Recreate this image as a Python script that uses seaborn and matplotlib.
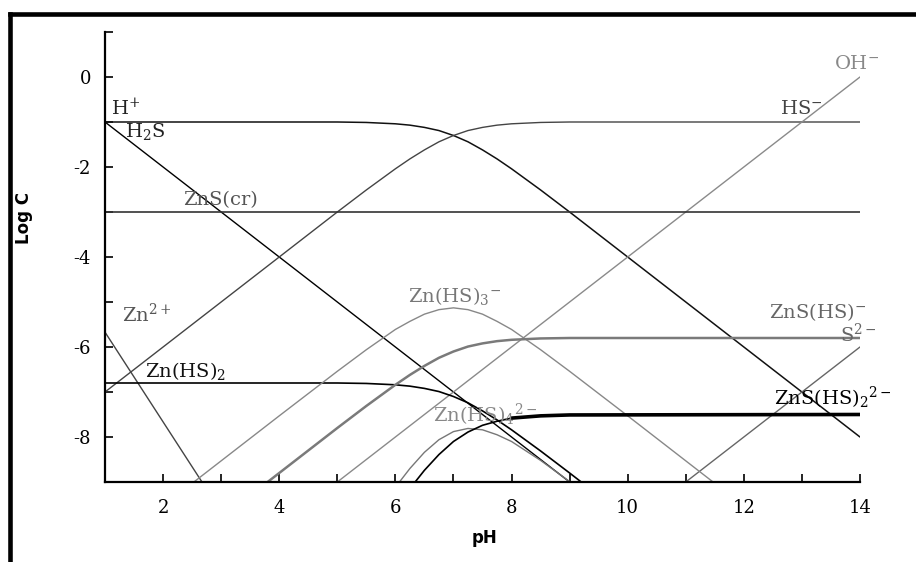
import numpy as np
import pandas as pd
import matplotlib
matplotlib.use("Agg")
import matplotlib.pyplot as plt
import seaborn as sns
from matplotlib.lines import Line2D

# ---------------- data ----------------
ph_hplus = [1, 9]
logc_hplus = [-1, -9]

ph_h2s = [1, 5, 5.5, 6, 6.25, 6.5, 6.75, 7, 7.25, 7.5, 7.75, 8, 8.5, 9, 14]
logc_h2s = [-1, -1, -1.01, -1.04, -1.07, -1.12, -1.19, -1.30, -1.44, -1.62, -1.82, -2.04, -2.51, -3.0, -8.0]

ph_hs = [1, 5, 5.5, 6, 6.25, 6.5, 6.75, 7, 7.25, 7.5, 7.75, 8, 8.5, 9, 14]
logc_hs = [-7, -3.0, -2.51, -2.04, -1.82, -1.62, -1.44, -1.30, -1.19, -1.12, -1.07, -1.04, -1.01, -1.0, -1.0]

ph_oh = [5, 14]
logc_oh = [-9, 0]

ph_s2 = [11, 14]
logc_s2 = [-9, -6]

ph_znscr = [1, 14]
logc_znscr = [-3, -3]

ph_zn = [1, 2.67]
logc_zn = [-5.67, -9]

ph_znhs2 = [1, 5, 5.5, 6, 6.25, 6.5, 6.75, 7, 7.25, 7.5, 7.75, 8, 8.5, 9, 9.2]
logc_znhs2 = [-6.8, -6.8, -6.81, -6.84, -6.87, -6.92, -6.99, -7.10, -7.24, -7.42, -7.62, -7.84, -8.31, -8.8, -9.0]

ph_znhs3 = [2.53, 4, 5, 5.5, 6, 6.25, 6.5, 6.75, 7, 7.25, 7.5, 7.75, 8, 8.5, 9, 10, 11.47]
logc_znhs3 = [-9.0, -7.53, -6.54, -6.06, -5.61, -5.43, -5.27, -5.17, -5.13, -5.17, -5.27, -5.43, -5.61, -6.06, -6.54, -7.53, -9.0]

ph_znshs = [3.8, 4.5, 5, 5.5, 6, 6.25, 6.5, 6.75, 7, 7.25, 7.5, 7.75, 8, 8.5, 9, 14]
logc_znshs = [-9.0, -8.3, -7.8, -7.31, -6.84, -6.62, -6.42, -6.24, -6.10, -5.99, -5.92, -5.87, -5.84, -5.81, -5.8, -5.8]

ph_znhs4 = [6.07, 6.25, 6.5, 6.75, 7, 7.25, 7.5, 7.75, 8, 8.5, 9, 9.05]
logc_znhs4 = [-9.0, -8.70, -8.34, -8.06, -7.88, -7.81, -7.84, -7.95, -8.10, -8.52, -8.99, -9.0]

ph_znshs2 = [6.34, 6.5, 6.75, 7, 7.25, 7.5, 7.75, 8, 8.5, 9, 14]
logc_znshs2 = [-9.0, -8.74, -8.39, -8.10, -7.89, -7.74, -7.65, -7.58, -7.53, -7.51, -7.5]

x_ticks = list(range(2, 15))
x_ticklabels = [str(v) if v % 2 == 0 else "" for v in x_ticks]
y_ticks = list(range(-8, 2))
y_ticklabels = [str(v) if v % 2 == 0 else "" for v in y_ticks]

series = [
    ("H+", ph_hplus, logc_hplus, "#000000", 1.0),
    ("H2S", ph_h2s, logc_h2s, "#111111", 1.1),
    ("HS-", ph_hs, logc_hs, "#444444", 1.0),
    ("OH-", ph_oh, logc_oh, "#8a8a8a", 1.0),
    ("S2-", ph_s2, logc_s2, "#666666", 1.0),
    ("ZnS(cr)", ph_znscr, logc_znscr, "#333333", 1.2),
    ("Zn2+", ph_zn, logc_zn, "#444444", 1.0),
    ("Zn(HS)2", ph_znhs2, logc_znhs2, "#000000", 1.2),
    ("Zn(HS)3-", ph_znhs3, logc_znhs3, "#888888", 1.0),
    ("ZnS(HS)-", ph_znshs, logc_znshs, "#7a7a7a", 1.8),
    ("Zn(HS)4 2-", ph_znhs4, logc_znhs4, "#777777", 1.0),
    ("ZnS(HS)2 2-", ph_znshs2, logc_znshs2, "#000000", 1.2),
]

frames = []
for name, xs, ys, _, _ in series:
    frames.append(pd.DataFrame({"species": name, "pH": xs, "logC": ys}))
df = pd.concat(frames, ignore_index=True)

# ---------------- figure ----------------
sns.set_theme(style="white")
plt.rcParams["font.family"] = ["DejaVu Serif"]
plt.rcParams["mathtext.fontset"] = "dejavuserif"
plt.rcParams["axes.unicode_minus"] = False
plt.rcParams["text.color"] = "black"
plt.rcParams["axes.labelcolor"] = "black"

fig = plt.figure(figsize=(9.16, 5.62), dpi=100)
ax = fig.add_axes([105 / 916, 1 - 482 / 562, 755 / 916, 450 / 562])

for name, xs, ys, color, lw in series:
    sub = df[df["species"] == name]
    sns.lineplot(data=sub, x="pH", y="logC", color=color, linewidth=lw,
                 estimator=None, sort=False, ax=ax, legend=False)

# thick plateau of ZnS(HS)2 2-
sub = df[(df["species"] == "ZnS(HS)2 2-") & (df["pH"] >= 8)]
sns.lineplot(data=sub, x="pH", y="logC", color="#000000", linewidth=2.6,
             estimator=None, sort=False, ax=ax, legend=False)

ax.set_xlim(1, 14)
ax.set_ylim(-9, 1)
ax.set_xticks(x_ticks)
ax.set_xticklabels(x_ticklabels)
ax.set_yticks(y_ticks)
ax.set_yticklabels(y_ticklabels)
ax.tick_params(axis="both", direction="in", length=6, width=1.2,
               colors="black", labelcolor="black", labelsize=13,
               bottom=True, left=True, top=False, right=False)
ax.tick_params(axis="x", pad=12)
ax.tick_params(axis="y", pad=10)
for side in ["top", "right"]:
    ax.spines[side].set_visible(False)
for side in ["left", "bottom"]:
    ax.spines[side].set_color("black")
    ax.spines[side].set_linewidth(1.6)

ax.set_xlabel("pH", family=["DejaVu Sans"], fontweight="bold", fontsize=12,
              color="black")
ax.set_ylabel("Log C", family=["DejaVu Sans"], fontweight="bold", fontsize=12,
              color="black")
ax.xaxis.set_label_coords(0.502, -0.105)
ax.yaxis.set_label_coords(-0.095, 0.587)

labels = [
    ("H$^{+}$", 1.10, -0.84, "#222222"),
    ("H$_2$S", 1.34, -1.33, "#222222"),
    ("ZnS(cr)", 2.34, -2.84, "#555555"),
    ("OH$^{-}$", 13.55, 0.17, "#888888"),
    ("HS$^{-}$", 12.62, -0.82, "#444444"),
    ("Zn$^{2+}$", 1.29, -5.44, "#555555"),
    ("Zn(HS)$_2$", 1.69, -6.67, "#111111"),
    ("Zn(HS)$_3$$^{-}$", 6.22, -5.0, "#777777"),
    ("Zn(HS)$_4$$^{2-}$", 6.64, -7.67, "#888888"),
    ("ZnS(HS)$^{-}$", 12.43, -5.36, "#666666"),
    ("S$^{2-}$", 13.65, -5.89, "#666666"),
    ("ZnS(HS)$_2$$^{2-}$", 12.52, -7.29, "#000000"),
]
for txt, x, y, c in labels:
    ax.text(x, y, txt, color=c, fontsize=14, ha="left", va="baseline",
            clip_on=False)

# outer frame (left and top edges visible)
fx = 9.5 / 916
fy = 1 - 14 / 562
fig.add_artist(Line2D([fx, fx], [-0.05, fy], transform=fig.transFigure,
                      color="black", linewidth=3.3, solid_capstyle="projecting"))
fig.add_artist(Line2D([fx, 1.05], [fy, fy], transform=fig.transFigure,
                      color="black", linewidth=3.3, solid_capstyle="projecting"))

fig.savefig("out.png", dpi=100)
